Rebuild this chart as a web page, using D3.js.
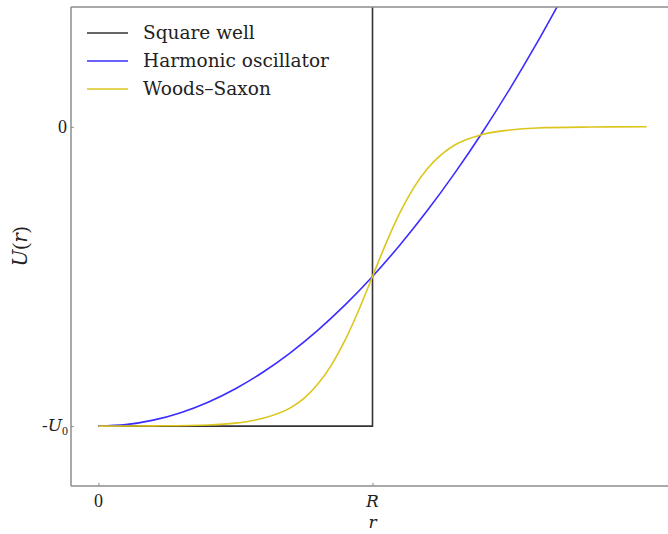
<!DOCTYPE html>
<html>
<head>
<meta charset="utf-8">
<script src="https://cdn.jsdelivr.net/npm/d3@7"></script>
<style>
  html, body { margin: 0; padding: 0; background: #fff; }
  svg { display: block; }
  .math { font-family: "DejaVu Serif", "Liberation Serif", serif; font-style: italic; }
  .num { font-family: "Liberation Serif", "DejaVu Serif", serif; }
</style>
</head>
<body>
<svg id="chart" width="668" height="534"></svg>
<script>
// Radius r in units of R, potential U in units of U0.
const squareR = [0, 1, 1];
const squareU = [-1, -1, 0.45];

const harmonicR = [0, 0.1, 0.2, 0.3, 0.4, 0.5, 0.6, 0.7, 0.8, 0.9, 1.0, 1.1, 1.2, 1.3, 1.4, 1.5, 1.6, 1.7];
const harmonicU = [-1, -0.995, -0.98, -0.955, -0.92, -0.875, -0.82, -0.755, -0.68, -0.595, -0.5,
                   -0.395, -0.28, -0.155, -0.02, 0.125, 0.28, 0.445];

const woodsR = [0, 0.2, 0.4, 0.5, 0.6, 0.7, 0.75, 0.8, 0.85, 0.9, 0.95, 1.0, 1.05, 1.1, 1.15, 1.2,
                1.25, 1.3, 1.4, 1.5, 1.6, 1.8, 2.0];
const woodsU = [-1.0, -0.999, -0.996, -0.99, -0.974, -0.939, -0.907, -0.86, -0.796, -0.713, -0.612, -0.5,
                -0.388, -0.287, -0.204, -0.14, -0.094, -0.061, -0.026, -0.011, -0.004, -0.001, 0.0];

const seriesNames = ["Square well", "Harmonic oscillator", "Woods–Saxon"];
const seriesColors = ["#333333", "#3b2cff", "#dcc61e"];

const xTickValues = [0, 1];
const xTickLabels = ["0", "R"];
const yTickValues = [0, -1];

const svg = d3.select("#chart");
const plot = { left: 71, top: 7, right: 674, bottom: 486 };

const x = d3.scaleLinear().domain([-0.1, 2.1]).range([plot.left, plot.right]);
const y = d3.scaleLinear().domain([-1.2, 0.4]).range([plot.bottom, plot.top]);

svg.append("defs").append("clipPath").attr("id", "plotclip")
  .append("rect")
  .attr("x", plot.left).attr("y", plot.top)
  .attr("width", plot.right - plot.left).attr("height", plot.bottom - plot.top);

const line = d3.line().x(d => x(d[0])).y(d => y(d[1]));
const smooth = d3.line().x(d => x(d[0])).y(d => y(d[1])).curve(d3.curveMonotoneX);

const g = svg.append("g").attr("clip-path", "url(#plotclip)");

g.append("path")
  .datum(squareR.map((r, i) => [r, squareU[i]]))
  .attr("d", line)
  .attr("fill", "none").attr("stroke", seriesColors[0]).attr("stroke-width", 1.6);

g.append("path")
  .datum(harmonicR.map((r, i) => [r, harmonicU[i]]))
  .attr("d", smooth)
  .attr("fill", "none").attr("stroke", seriesColors[1]).attr("stroke-width", 1.6);

g.append("path")
  .datum(woodsR.map((r, i) => [r, woodsU[i]]))
  .attr("d", smooth)
  .attr("fill", "none").attr("stroke", seriesColors[2]).attr("stroke-width", 1.6);

// Frame: left, top and bottom spines
const spine = "#8c8c8c";
svg.append("line").attr("x1", plot.left).attr("x2", plot.left).attr("y1", plot.top).attr("y2", plot.bottom)
  .attr("stroke", spine).attr("stroke-width", 1.5);
svg.append("line").attr("x1", plot.left).attr("x2", 668).attr("y1", plot.top).attr("y2", plot.top)
  .attr("stroke", spine).attr("stroke-width", 1.5);
svg.append("line").attr("x1", plot.left).attr("x2", 668).attr("y1", plot.bottom).attr("y2", plot.bottom)
  .attr("stroke", spine).attr("stroke-width", 1.5);

// x axis ticks and labels
const xAxis = d3.axisBottom(x).tickValues(xTickValues).tickSize(3).tickFormat("");
const xg = svg.append("g").attr("transform", `translate(0,${plot.bottom - 3})`).call(xAxis);
xg.select(".domain").remove();
xg.selectAll(".tick line").attr("stroke", spine);

xTickValues.forEach((v, i) => {
  svg.append("text")
    .attr("class", i === 0 ? "num" : "math")
    .attr("x", x(v)).attr("y", 507)
    .attr("text-anchor", "middle")
    .attr("font-size", i === 0 ? 18 : 17)
    .attr("fill", "#222")
    .text(xTickLabels[i]);
});

svg.append("text").attr("class", "math")
  .attr("x", x(1)).attr("y", 528)
  .attr("text-anchor", "middle").attr("font-size", 17).attr("fill", "#222")
  .text("r");

// y axis ticks and labels
const yAxis = d3.axisLeft(y).tickValues(yTickValues).tickSize(3).tickFormat("");
const yg = svg.append("g").attr("transform", `translate(${plot.left + 3},0)`).call(yAxis);
yg.select(".domain").remove();
yg.selectAll(".tick line").attr("stroke", spine);

svg.append("text").attr("class", "num")
  .attr("x", 67).attr("y", y(0) + 6)
  .attr("text-anchor", "end").attr("font-size", 18).attr("fill", "#222")
  .text("0");

const u0 = svg.append("text")
  .attr("x", 68).attr("y", y(-1) + 5)
  .attr("text-anchor", "end").attr("font-size", 17).attr("fill", "#222");
u0.append("tspan").attr("class", "num").text("-");
u0.append("tspan").attr("class", "math").text("U");
u0.append("tspan").attr("class", "num").attr("font-size", 12).attr("dy", 4).text("0");

const ylab = svg.append("text")
  .attr("transform", `translate(27,${(plot.top + plot.bottom) / 2}) rotate(-90)`)
  .attr("text-anchor", "middle").attr("font-size", 20).attr("fill", "#222");
ylab.append("tspan").attr("class", "math").text("U");
ylab.append("tspan").attr("class", "num").text("(");
ylab.append("tspan").attr("class", "math").text("r");
ylab.append("tspan").attr("class", "num").text(")");

// Legend
const legend = svg.append("g").attr("transform", "translate(87,33)");
seriesNames.forEach((name, i) => {
  const row = legend.append("g").attr("transform", `translate(0,${i * 28})`);
  row.append("line").attr("x1", 0).attr("x2", 41).attr("y1", 0).attr("y2", 0)
    .attr("stroke", seriesColors[i]).attr("stroke-width", 1.6);
  row.append("text").attr("x", 56).attr("y", 6)
    .attr("font-family", "DejaVu Serif, serif").attr("font-size", 18.5).attr("fill", "#222")
    .text(name);
});
</script>
</body>
</html>
